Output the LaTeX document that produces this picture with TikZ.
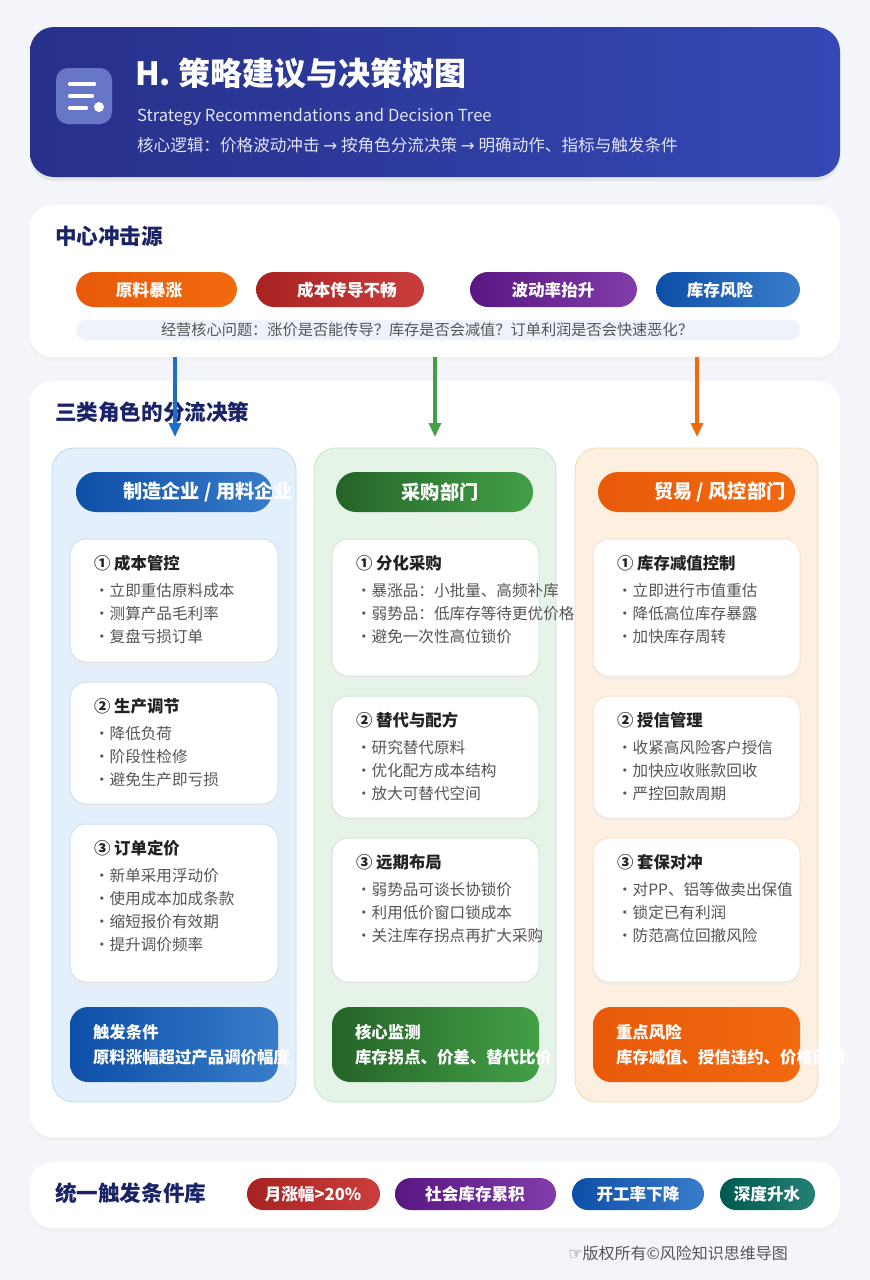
\documentclass[tikz,border=0pt]{standalone}
\usepackage{fontspec}
\setmainfont{Noto Sans CJK SC}
\newfontfamily\dejavu{DejaVu Sans}
\usetikzlibrary{arrows.meta}
\definecolor{bg}{HTML}{F3F5FA}
\definecolor{navy}{HTML}{1A2366}
\definecolor{hdA}{HTML}{27308A}
\definecolor{hdB}{HTML}{3548B5}
\definecolor{cOr}{HTML}{F26A0F}
\definecolor{cOrD}{HTML}{E85A0A}
\definecolor{cRed}{HTML}{C62828}
\definecolor{cPur}{HTML}{6A1B9A}
\definecolor{cBlu}{HTML}{1565C0}
\definecolor{cBluD}{HTML}{0D4FA8}
\definecolor{cGrn}{HTML}{2E7D32}
\definecolor{cGrnL}{HTML}{43A047}
\definecolor{cTeal}{HTML}{00695C}
\definecolor{txt}{HTML}{222222}
\definecolor{gtx}{HTML}{555555}
\definecolor{qbar}{HTML}{EEF2FB}
\definecolor{col1f}{HTML}{E3F0FC}
\definecolor{col1d}{HTML}{BCD8F0}
\definecolor{col2f}{HTML}{E6F4E7}
\definecolor{col2d}{HTML}{C5E3C7}
\definecolor{col3f}{HTML}{FDF0E0}
\definecolor{col3d}{HTML}{F5D9B0}
\definecolor{arB}{HTML}{1E6EC8}
\tikzset{x=0.5pt,y=-0.5pt,
  fs/.style={font=\fontsize{#1}{#1}\selectfont},
  fsb/.style={font=\fontsize{#1}{#1}\selectfont\bfseries},
  panel/.style={fill=white,rounded corners=11pt},
  shad/.style={fill=black!6,rounded corners=11pt},
  pill/.style={rounded corners=9pt},
  wtxt/.style={text=white,fsb=8.3},
  innercard/.style={fill=white,draw=#1,line width=0.5pt,rounded corners=8pt},
  arr/.style={-{Triangle[length=7pt,width=6pt]},line width=1.6pt}}
\newcommand\icard[8]{% x1 y1 x2 y2 border title name bullets
  \fill[black!7,rounded corners=8pt] (#1,#2+3) rectangle (#3,#4+3);
  \draw[innercard=#5] (#1,#2) rectangle (#3,#4);
  \node[anchor=west,fsb=8.2,text=txt] (#7) at (#1+17,#2+24) {#6};
  \foreach \b [count=\i] in {#8}{\node[anchor=west,fs=7.8,text=gtx] (#7b\i) at (#1+17,#2+29+23*\i) {·\b};}}
\begin{document}
\begin{tikzpicture}
\fill[bg] (0,0) rectangle (870,1280);
\useasboundingbox (0,0) rectangle (870,1280);
% header
\fill[black!10,rounded corners=12pt] (30,31) rectangle (840,181);
\shade[left color=hdA,right color=hdB,rounded corners=12pt] (30,27) rectangle (840,177);
\fill[white!25!hdB,rounded corners=6pt] (56,68) rectangle (112,124);
\draw[white,line width=2.2pt,line cap=round] (70,84)--(94,84) (70,96)--(92,96) (70,108)--(86,108);
\fill[white] (99,107) circle (5);
\node[anchor=west,text=white,fsb=16] (title) at (128,73) {H. 策略建议与决策树图};
\node[anchor=west,text=white!85!hdB,fs=8.3] (sub) at (130,117) {Strategy Recommendations and Decision Tree};
\node[anchor=west,text=white!85!hdB,fs=8.3] (logic) at (130,145) {核心逻辑：价格波动冲击 {\dejavu →} 按角色分流决策 {\dejavu →} 明确动作、指标与触发条件};
% card 1
\fill[shad] (30,209) rectangle (840,361);
\fill[panel] (30,205) rectangle (840,357);
\node[anchor=west,text=navy,fsb=10.8] (c1t) at (48,236) {中心冲击源};
\shade[left color=cOrD,right color=cOr,pill] (76,272) rectangle (237,307);
\node[wtxt] (p1) at (149,290) {原料暴涨};
\shade[left color=cRed!85!black,right color=cRed!90,pill] (256,272) rectangle (424,307);
\node[wtxt] (p2) at (347,290) {成本传导不畅};
\shade[left color=cPur!85!black,right color=cPur!85,pill] (470,272) rectangle (637,307);
\node[wtxt] (p3) at (553,290) {波动率抬升};
\shade[left color=cBluD,right color=cBlu!85,pill] (656,272) rectangle (800,307);
\node[wtxt] (p4) at (720,290) {库存风险};
\fill[qbar,rounded corners=5pt] (76,320) rectangle (800,340);
\node[fs=7.6,text=gtx] (q) at (427,330) {经营核心问题：涨价是否能传导？库存是否会减值？订单利润是否会快速恶化？};
% card 2
\fill[shad] (30,385) rectangle (840,1141);
\fill[panel] (30,381) rectangle (840,1137);
\node[anchor=west,text=navy,fsb=10.8] (c2t) at (48,412) {三类角色的分流决策};
% columns
\filldraw[fill=col1f,draw=col1d,rounded corners=11pt] (52,448) rectangle (296,1102);
\filldraw[fill=col2f,draw=col2d,rounded corners=11pt] (314,448) rectangle (556,1102);
\filldraw[fill=col3f,draw=col3d,rounded corners=11pt] (575,448) rectangle (818,1102);
% arrows
\coordinate (a1s) at (175,357); \coordinate (a1e) at (175,437);
\coordinate (a2s) at (435,357); \coordinate (a2e) at (435,437);
\coordinate (a3s) at (697,357); \coordinate (a3e) at (697,437);
\draw[arr,draw=arB,fill=arB] (a1s)--(a1e);
\draw[arr,draw=cGrnL,fill=cGrnL] (a2s)--(a2e);
\draw[arr,draw=cOr,fill=cOr] (a3s)--(a3e);
% column headers
\shade[left color=cBluD,right color=cBlu!85,rounded corners=10pt] (76,472) rectangle (272,512);
\shade[left color=cGrn!80!black,right color=cGrnL,rounded corners=10pt] (336,472) rectangle (533,512);
\shade[left color=cOrD,right color=cOr,rounded corners=10pt] (598,472) rectangle (795,512);
\begin{scope}\clip (52,448) rectangle (300,1102);
\node[anchor=west,text=white,fsb=9.6] (h1) at (116,492) {制造企业 / 用料企业};\end{scope}
\node[text=white,fsb=9.6] (h2) at (440,492) {采购部门};
\begin{scope}\clip (575,448) rectangle (797,1102);
\node[anchor=west,text=white,fsb=9.6] (h3) at (647,492) {贸易 / 风控部门};\end{scope}
% inner cards
\icard{70}{539}{278}{662}{cBlu!20}{① 成本管控}{m1}{立即重估原料成本,测算产品毛利率,复盘亏损订单}
\icard{70}{682}{278}{804}{cBlu!20}{② 生产调节}{m2}{降低负荷,阶段性检修,避免生产即亏损}
\icard{70}{824}{278}{982}{cBlu!20}{③ 订单定价}{m3}{新单采用浮动价,使用成本加成条款,缩短报价有效期,提升调价频率}
\icard{332}{539}{539}{676}{cGrn!20}{① 分化采购}{g1}{暴涨品：小批量、高频补库,弱势品：低库存等待更优价格,避免一次性高位锁价}
\icard{332}{696}{539}{818}{cGrn!20}{② 替代与配方}{g2}{研究替代原料,优化配方成本结构,放大可替代空间}
\icard{332}{838}{539}{982}{cGrn!20}{③ 远期布局}{g3}{弱势品可谈长协锁价,利用低价窗口锁成本,关注库存拐点再扩大采购}
\icard{593}{539}{800}{676}{cOr!20}{① 库存减值控制}{r1}{立即进行市值重估,降低高位库存暴露,加快库存周转}
\icard{593}{696}{800}{818}{cOr!20}{② 授信管理}{r2}{收紧高风险客户授信,加快应收账款回收,严控回款周期}
\icard{593}{838}{800}{982}{cOr!20}{③ 套保对冲}{r3}{对PP、铝等做卖出保值,锁定已有利润,防范高位回撤风险}
% bottom boxes
\shade[left color=cBluD,right color=cBlu!85,rounded corners=9pt] (70,1007) rectangle (278,1082);
\shade[left color=cGrn!80!black,right color=cGrnL,rounded corners=9pt] (332,1007) rectangle (539,1082);
\shade[left color=cOrD,right color=cOr,rounded corners=9pt] (593,1007) rectangle (800,1082);
\node[anchor=west,text=white,fsb=8.2] (b1t) at (86,1032) {触发条件};
\node[anchor=west,text=white,fsb=8.2] (b2t) at (348,1032) {核心监测};
\node[anchor=west,text=white,fsb=8.2] (b3t) at (609,1032) {重点风险};
\begin{scope}\clip (52,1000) rectangle (300,1090);
\node[anchor=west,text=white,fsb=8.2] (b1) at (86,1057) {原料涨幅超过产品调价幅度};\end{scope}
\begin{scope}\clip (314,1000) rectangle (562,1090);
\node[anchor=west,text=white,fsb=8.2] (b2) at (348,1057) {库存拐点、价差、替代比价};\end{scope}
\begin{scope}\clip (575,1000) rectangle (850,1090);
\node[anchor=west,text=white,fsb=8.2] (b3) at (609,1057) {库存减值、授信违约、价格回撤};\end{scope}
% card 3
\fill[shad] (30,1166) rectangle (840,1232);
\fill[panel] (30,1162) rectangle (840,1228);
\node[anchor=west,text=navy,fsb=10.8] (c3t) at (48,1193) {统一触发条件库};
\shade[left color=cRed!85!black,right color=cRed!90,rounded corners=8pt] (247,1178) rectangle (380,1210);
\node[wtxt] (t1) at (313,1194) {月涨幅>20\%};
\shade[left color=cPur!85!black,right color=cPur!85,rounded corners=8pt] (395,1178) rectangle (556,1210);
\node[wtxt] (t2) at (475,1194) {社会库存累积};
\shade[left color=cBluD,right color=cBlu!85,rounded corners=8pt] (572,1178) rectangle (704,1210);
\node[wtxt] (t3) at (638,1194) {开工率下降};
\shade[left color=cTeal!85!black,right color=cTeal!85,rounded corners=8pt] (720,1178) rectangle (815,1210);
\node[wtxt] (t4) at (767,1194) {深度升水};
\node[anchor=east,fs=8,text=gtx] (foot) at (795,1253) {{\dejavu ☞}版权所有©风险知识思维导图};
\end{tikzpicture}
\end{document}
